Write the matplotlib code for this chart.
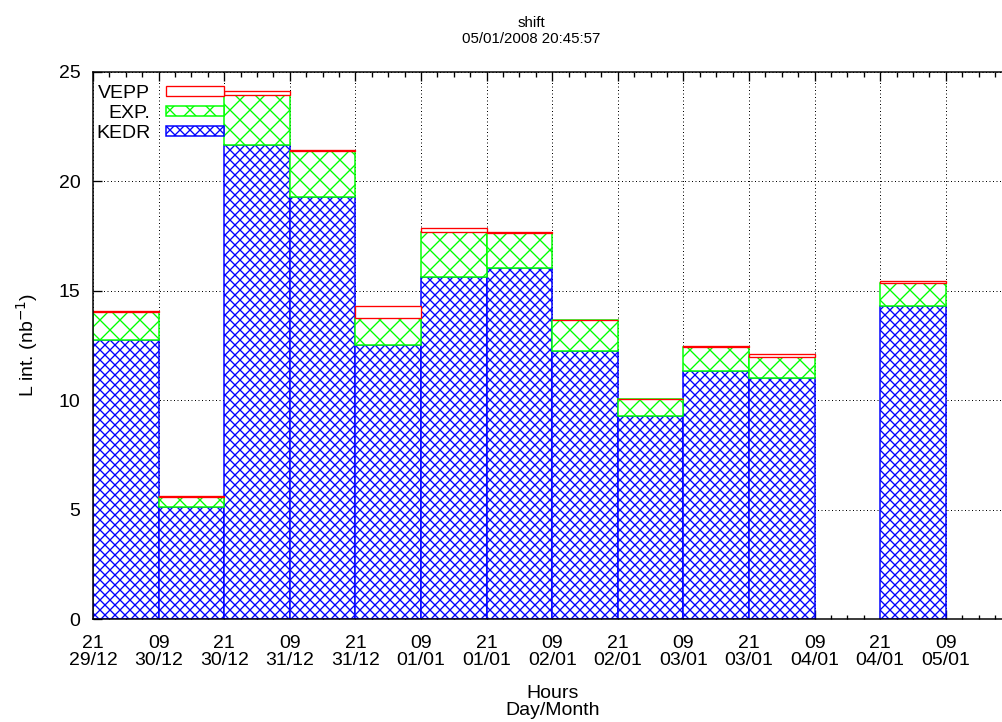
import matplotlib.pyplot as plt
from matplotlib import font_manager
import numpy as np

plt.rcParams['font.family'] = ['Liberation Sans', 'DejaVu Sans']
plt.rcParams['hatch.linewidth'] = 0.8

# 12-hour shifts starting at 21:00 29/12 (slot index, 12 h each); slot 11 has no data
slots = [0, 1, 2, 3, 4, 5, 6, 7, 8, 9, 10, 12]
kedr = [12.74, 5.13, 21.66, 19.27, 12.52, 15.62, 16.03, 12.26, 9.28, 11.33, 11.00, 14.30]
exp = [1.29, 0.43, 2.29, 2.09, 1.22, 2.05, 1.61, 1.39, 0.77, 1.10, 0.96, 1.04]
vepp = [0.03, 0.04, 0.15, 0.07, 0.56, 0.21, 0.05, 0.02, 0.02, 0.03, 0.14, 0.12]

hour_labels = ['21', '09', '21', '09', '21', '09', '21', '09', '21', '09',
               '21', '09', '21', '09']
day_labels = ['29/12', '30/12', '30/12', '31/12', '31/12', '01/01', '01/01',
              '02/01', '02/01', '03/01', '03/01', '04/01', '04/01', '05/01']

# the title in the original is a narrow face; use one if there is one
names = {f.name for f in font_manager.fontManager.ttflist}
if 'Liberation Sans Narrow' in names:
    title_kw = dict(family='Liberation Sans Narrow', fontsize=9.6)
else:
    title_kw = dict(family='Liberation Sans', fontsize=9.0)

# dpi 120 so that the hatch tiles come out at gnuplot's density
DPI = 120
W, H = 1002, 722
fig = plt.figure(figsize=(W / DPI, H / DPI), dpi=DPI)
x_left, x_right = 93, 93 + 14 * 65.6
y_top, y_bot = 71.7, 619
ax = fig.add_axes([x_left / W, (H - y_bot) / H, (x_right - x_left) / W,
                   (y_bot - y_top) / H])

x = np.array(slots) * 12
kedr = np.array(kedr)
exp = np.array(exp)
vepp = np.array(vepp)

b1 = ax.bar(x, kedr, width=12, align='edge', facecolor='white',
            edgecolor='blue', hatch='xxxx', linewidth=0.9, label='KEDR')
b2 = ax.bar(x, exp, width=12, bottom=kedr, align='edge', facecolor='white',
            edgecolor='#00ff00', hatch='xx', linewidth=0.9, label='EXP.')
b3 = ax.bar(x, vepp, width=12, bottom=kedr + exp, align='edge',
            facecolor='white', edgecolor='red', linewidth=0.8, label='VEPP')

ax.set_xlim(0, 168)
ax.set_ylim(0, 25)
ax.set_xticks(np.arange(0, 168, 12))
ax.set_xticklabels([f'{h}\n{d}' for h, d in zip(hour_labels, day_labels)])
ax.set_xticks(np.arange(0, 168, 3), minor=True)
ax.set_yticks(np.arange(0, 26, 5))

ax.tick_params(which='major', direction='in', length=5.4, width=0.8,
               top=True, right=False, labelsize=11.7)
ax.tick_params(axis='x', which='major', pad=9.8)
ax.tick_params(axis='y', which='major', pad=7.5)
ax.tick_params(axis='x', which='minor', direction='in', length=2.7,
               width=0.8, top=True)
for lab in ax.get_xticklabels():
    lab.set_linespacing(1.0)
ax.grid(True, which='major', color='black', linestyle=(0, (1, 2.5)),
        linewidth=0.6)
ax.set_axisbelow(True)
for s in ax.spines.values():
    s.set_linewidth(0.9)

ax.set_xlabel('Hours\nDay/Month', fontsize=11.7, labelpad=9.2,
              linespacing=1.0)
ax.set_ylabel('L int. (nb$^{-1}$)', fontsize=11.7, labelpad=11.4)

fig.text(531 / W, 1 - 31 / H, 'shift\n05/01/2008 20:45:57', ha='center',
         va='center', **title_kw)

ax.legend(handles=[b3, b2, b1], loc='upper left',
          bbox_to_anchor=(96 / W, 1 - 85 / H), bbox_transform=fig.transFigure,
          frameon=False, markerfirst=False, fontsize=11.7, borderpad=0,
          borderaxespad=0, handlelength=2.97, handleheight=0.46,
          handletextpad=0.82, labelspacing=0.15)

fig.savefig('out.png', dpi=DPI)
